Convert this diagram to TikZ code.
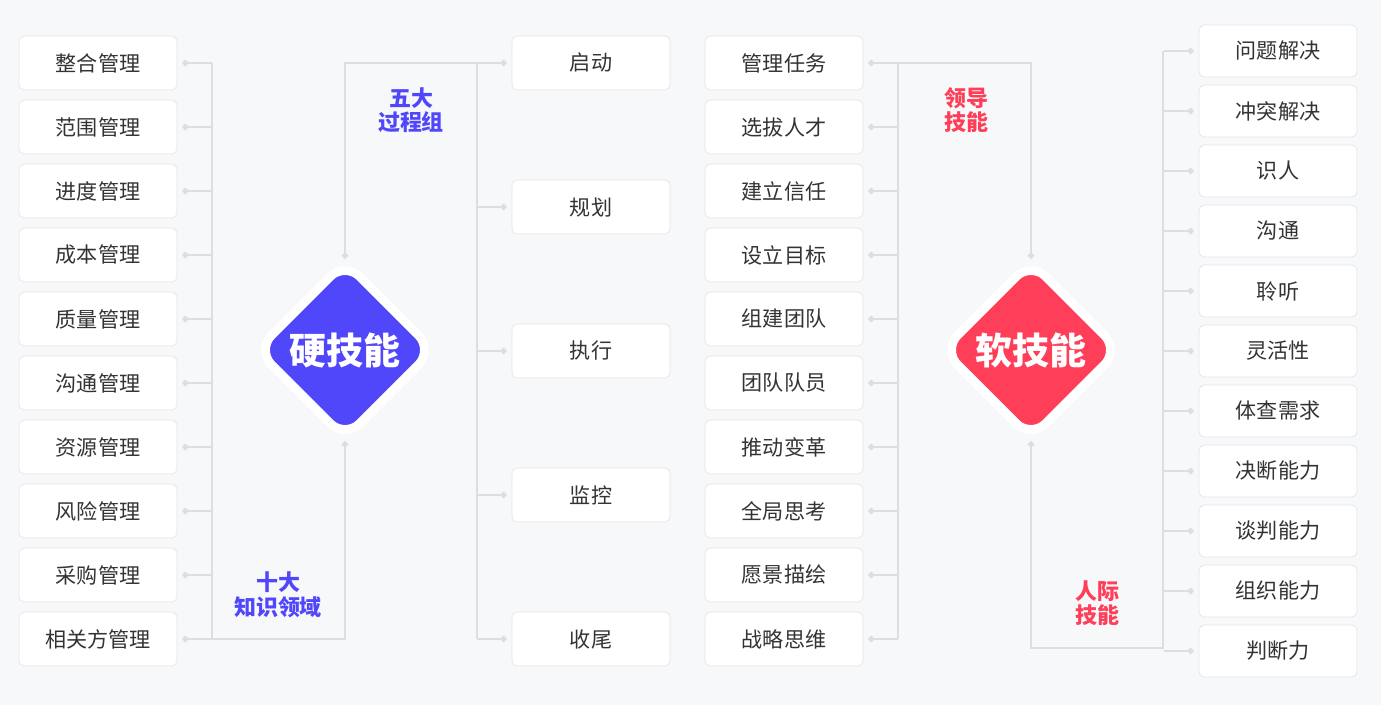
\documentclass[tikz,border=0pt]{standalone}
\usepackage{fontspec}
\setmainfont{Noto Sans CJK SC}
\usetikzlibrary{shapes.geometric}
\definecolor{bg}{HTML}{F7F8FA}
\definecolor{boxline}{HTML}{E3E5E9}
\definecolor{wirec}{HTML}{DCDEE2}
\definecolor{hardc}{HTML}{5046FA}
\definecolor{softc}{HTML}{FF3F5A}
\definecolor{txt}{HTML}{333333}
\tikzset{
  item/.style={draw=boxline, fill=white, rounded corners=3pt, minimum width=158*0.02cm,
    minimum height=54*0.02cm, text=txt, font=\fontsize{12}{14}\selectfont},
  ritem/.style={item, minimum height=52*0.02cm},
  wire/.style={draw=wirec, line width=1.2pt},
  dot/.style={diamond, fill=wirec, inner sep=0pt, minimum size=8*0.02cm},
  core/.style={diamond, draw=white, line width=5pt, rounded corners=12pt, minimum size=180*0.02cm,
    text=white, font=\fontsize{21}{24}\selectfont\bfseries},
  tag/.style={align=center, font=\fontsize{12.5}{14}\selectfont\bfseries}
}
\begin{document}
\begin{tikzpicture}[x=0.02cm, y=-0.02cm]
\fill[bg] (0,0) rectangle (1381,705);
% 硬技能
\node[core, fill=hardc] (hard) at (345,350) {硬技能};
\foreach \t [count=\i] in {整合管理,范围管理,进度管理,成本管理,质量管理,沟通管理,资源管理,风险管理,采购管理,相关方管理} {
  \node[item] (k\i) at (98,{63+64*(\i-1)}) {\t};
  \draw[wire] (k\i.east) ++(8,0) node[dot] {} -- ++(27,0);
}
\draw[wire] (212,63) -- (212,639) -- (345,639) -- (hard.south) node[dot] {};
\foreach \t [count=\i] in {启动,规划,执行,监控,收尾} {
  \node[item] (p\i) at (591,{63+144*(\i-1)}) {\t};
  \draw[wire] (p\i.west) ++(-8,0) node[dot] {} -- ++(-27,0);
}
\draw[wire] (hard.north) node[dot] {} -- (345,63) -- (477,63) -- (477,639);
\node[tag, text=hardc] (pg) at (411,110) {五大\\过程组};
\node[tag, text=hardc] (ka) at (278,595) {十大\\知识领域};
% 软技能
\node[core, fill=softc] (soft) at (1031,350) {软技能};
\foreach \t [count=\i] in {管理任务,选拔人才,建立信任,设立目标,组建团队,团队队员,推动变革,全局思考,愿景描绘,战略思维} {
  \node[item] (m\i) at (784,{63+64*(\i-1)}) {\t};
  \draw[wire] (m\i.east) ++(8,0) node[dot] {} -- ++(27,0);
}
\draw[wire] (898,639) -- (898,63) -- (1031,63) -- (soft.north) node[dot] {};
\foreach \t [count=\i] in {问题解决,冲突解决,识人,沟通,聆听,灵活性,体查需求,决断能力,谈判能力,组织能力,判断力} {
  \node[ritem] (r\i) at (1278,{51+60*(\i-1)}) {\t};
  \draw[wire] (r\i.west) ++(-8,0) node[dot] {} -- ++(-27,0);
}
\draw[wire] (soft.south) node[dot] {} -- (1031,648) -- (1163,648) -- (1163,51);
\node[tag, text=softc] (ld) at (966,110) {领导\\技能};
\node[tag, text=softc] (rj) at (1097,603) {人际\\技能};
\end{tikzpicture}
\end{document}
